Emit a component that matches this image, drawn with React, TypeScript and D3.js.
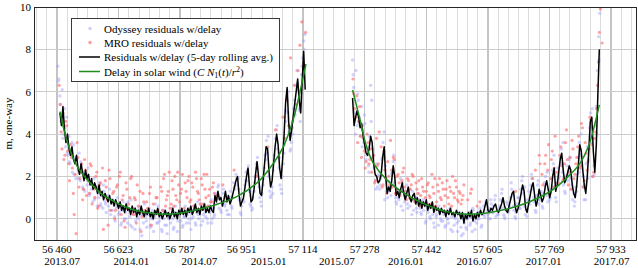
import React from "react";
import * as d3 from "d3";

// chart size, in px
const width = 638;
const height = 268;
const plot = { left: 34, right: 636, top: 7, bottom: 240 };

// bottom axis: MJD ticks every 6 solar rotations, calendar dates underneath
const mjdTicks = [56460, 56623, 56787, 56951, 57114, 57278, 57442, 57605, 57769, 57933];
const dateTicks = [56474, 56658, 56839, 57023, 57204, 57388, 57570, 57754, 57935];
const dateLabels = ["2013.07", "2014.01", "2014.07", "2015.01", "2015.07", "2016.01", "2016.07", "2017.01", "2017.07"];
const rotationDays = 27.2753;
const yTicks = [0, 2, 4, 6, 8, 10];
const yGrid = [0, 2, 4, 6, 8];

// Odyssey residuals, one reading every 3 days
const odyStep = 3;
const ody1Start = 56462;
const odyssey1 = [
  7.2, 6.6, 5.8, 4.6, 6.1, 4.0, 5.2, 3.4, 4.8, 3.0,
  3.9, 2.6, 3.3, 2.2, 3.5, 2.9, 1.9, 2.8, 2.3, 3.1,
  1.8, 2.5, 1.5, 2.2, 1.3, 2.0, 1.6, 2.4, 1.1, 1.7,
  1.4, 0.8, 1.9, 1.0, 1.5, 0.6, 1.2, 1.7, 0.7, 1.1,
  0.5, 1.3, 0.8, 0.3, 1.0, 0.6, 1.4, 0.2, 0.9, 0.4,
  0.7, -0.1, 0.5, 1.0, 0.2, 0.6, -0.3, 0.4, 0.8, 0.0,
  0.3, 0.7, -0.2, 0.4, 0.1, 0.9, -0.4, 0.2, 0.5, -0.1,
  0.4, 0.0, 0.6, -0.5, 0.2, 0.3, -0.2, 0.7, 0.1, -0.4,
  0.2, 0.5, -0.3, 0.0, 0.4, -0.6, 0.1, 0.3, -0.2, 0.6,
  -0.1, 0.2, -0.5, 0.4, 0.0, -0.3, 0.3, -0.7, 0.1, 0.2,
  -0.2, 0.5, 0.0, -0.4, 0.3, 0.1, -0.6, 0.2, 0.4, -0.1,
  0.3, -0.3, 0.1, 0.6, -0.2, 0.2, 0.0, 0.5, -0.5, 0.3,
  0.1, 0.6, -0.2, 0.3, 0.8, 0.0, 0.4, -0.3, 0.5, 0.2,
  0.7, 0.1, 0.4, -0.2, 0.6, 0.3, 0.9, 0.0, 0.5, 0.2,
  1.2, 0.7, 1.5, 0.5, 1.0, 0.3, 0.8, 1.4, 0.6, 1.1,
  0.4, 0.9, 0.2, 1.3, 0.6, 1.0, 1.7, 1.4, 2.1, 1.6,
  1.9, 0.9, 0.3, 0.6, 1.2, 0.8, 1.6, 2.2, 1.8, 2.5,
  1.3, 0.6, 0.4, 1.0, 1.3, 2.0, 2.6, 2.9, 1.8, 1.0,
  0.8, 1.2, 1.6, 2.4, 3.0, 3.7, 3.1, 2.0, 1.3, 1.1,
  1.5, 2.3, 3.0, 3.8, 4.2, 3.3, 2.4, 1.6, 1.4, 2.0,
  2.6, 3.5, 4.6, 5.6, 5.0, 4.1, 3.2, 3.6, 4.3, 5.2,
  5.6, 6.3, 7.0, 6.1, 5.2, 4.6, 6.8, 7.6, 8.4, 8.7,
];
const ody2Start = 57246;
const odyssey2 = [
  7.5, 6.2, 5.0, 7.0, 4.4, 5.6, 4.8, 3.9, 5.3, 4.2,
  3.6, 4.5, 2.8, 3.4, 2.5, 3.9, 6.3, 5.6, 3.3, 2.4,
  1.8, 2.6, 1.5, 2.1, 1.4, 1.9, 2.8, 3.6, 4.1, 2.5,
  1.3, 1.0, 1.8, 1.5, 1.1, 2.2, 2.7, 1.7, 1.0, 0.7,
  1.4, 0.9, 1.2, 0.6, 1.7, 1.3, 0.8, 1.0, 1.6, 0.5,
  1.1, 0.6, 0.9, 1.3, 0.4, 0.8, 1.0, 0.3, 0.7, 0.9,
  0.5, 0.2, 0.8, 0.4, 0.6, -0.1, 0.7, 0.3, 0.5, 0.0,
  0.6, 0.2, -0.2, 0.4, 0.1, 0.5, -0.3, 0.3, 0.0, 0.4,
  -0.1, 0.2, -0.4, 0.3, 0.0, -0.2, 0.4, -0.5, 0.1, 0.2,
  -0.3, 0.0, 0.3, -0.6, -0.1, 0.2, -0.4, 0.1, -0.7, -0.2,
  0.2, -0.5, 0.0, 0.3, -0.3, 0.1, -0.6, 0.4, -0.1, 0.2,
  -0.2, 0.3, 0.0, 0.5, -0.4, 0.2, 0.6, 0.1, 0.8, 0.4,
  0.2, 0.5, 0.0, 0.7, 0.3, 0.6, 0.9, 0.1, 0.4, 0.2,
  0.6, 0.9, 1.2, 0.5, 0.2, 0.0, 0.4, 0.7, 0.3, 0.6,
  1.0, 1.4, 1.1, 0.4, 0.1, 0.3, 0.7, 1.0, 0.5, 1.4,
  1.8, 1.2, 0.6, 0.2, 0.4, 0.9, 1.3, 0.7, 1.6, 1.9,
  1.4, 0.8, 0.4, 1.1, 1.6, 0.7, 0.9, 1.3, 0.6, 1.2,
  1.7, 2.0, 1.1, 0.8, 1.4, 1.0, 1.9, 2.3, 2.6, 1.5,
  1.0, 1.7, 2.4, 2.0, 2.9, 3.3, 2.2, 1.6, 1.3, 2.0,
  2.5, 2.1, 2.8, 1.9, 1.4, 0.9, 1.2, 0.8, 1.5, 2.1,
  2.9, 3.6, 3.0, 2.4, 1.5, 0.9, 1.6, 2.6, 3.4, 2.8,
  4.3, 5.0, 3.6, 2.0, 2.5, 4.4, 5.3, 7.0, 8.6, 9.7,
];
// second Odyssey pass, every 6 days, offset by 1.5 days
const odyStepB = 6;
const ody1bStart = 56463.5;
const odyssey1b = [
  6.5, 5.4, 3.8, 4.3, 3.1, 2.7, 3.6, 2.1, 2.8, 1.9,
  2.7, 1.4, 2.1, 1.8, 1.2, 1.6, 0.9, 1.5, 1.0, 0.6,
  1.6, 0.7, 1.1, 0.4, 0.9, 0.1, 0.6, 0.3, -0.2, 0.5,
  0.0, 0.8, -0.3, 0.4, -0.5, 0.1, 0.5, -0.8, 0.2, -0.1,
  0.3, -0.4, 0.0, 0.7, -0.2, 0.1, -0.6, 0.4, -0.3, 0.0,
  0.2, -0.5, 0.6, -0.1, 0.3, -0.4, 0.1, 0.4, -0.2, 0.0,
  0.4, -0.3, 0.2, 0.7, -0.1, 0.3, 0.0, 0.6, -0.2, 0.1,
  0.9, 1.6, 0.4, 1.2, 0.7, 0.2, 1.0, 0.5, 1.5, 1.9,
  1.4, 0.2, 0.9, 1.8, 2.3, 0.7, 0.5, 1.7, 2.4, 1.5,
  0.6, 1.9, 2.8, 3.9, 1.0, 1.2, 2.7, 4.4, 2.9, 1.2,
  3.1, 5.1, 6.0, 3.3, 4.0, 4.9, 6.4, 5.1, 7.2, 8.0,
];
const ody2bStart = 57247.5;
const odyssey2b = [
  6.8, 4.0, 5.9, 4.5, 3.4, 4.9, 3.0, 2.2, 4.6, 3.0,
  1.4, 2.0, 1.6, 2.9, 0.9, 1.7, 1.3, 2.1, 3.0, 0.8,
  1.0, 1.9, 0.4, 1.1, 0.7, 1.4, 0.2, 0.9, 0.5, 1.2,
  0.3, 0.9, -0.2, 0.5, 0.1, 0.7, -0.4, 0.2, 0.6, -0.1,
  0.4, -0.3, 0.0, 0.5, -0.6, 0.1, -0.2, 0.3, -0.8, 0.0,
  -0.4, 0.1, -0.2, 0.5, -0.5, 0.0, 0.3, -0.3, 0.2, 0.7,
  0.0, 0.9, 0.3, 1.1, 0.2, 0.5, 1.4, 0.1, 0.8, 0.4,
  1.7, 0.6, 0.0, 1.0, 0.5, 2.0, 1.5, 0.1, 0.8, 2.1,
  1.0, 0.3, 1.8, 1.2, 0.5, 1.6, 2.2, 0.9, 1.4, 3.0,
  0.8, 1.9, 2.6, 3.6, 1.2, 1.8, 2.9, 1.6, 0.6, 1.3,
  2.2, 4.0, 2.0, 0.9, 1.9, 3.9, 5.2, 2.1, 4.0, 7.5,
];

// MRO residuals, one reading every 5 days (null = no point)
const mroStep = 5;
const mro1Start = 56466;
const mro1 = [
  6.3, 4.1, 5.0, 3.0, 4.4, 2.6, 3.5, 2.4, 0.2, -0.7,
  2.9, 1.9, 2.6, 1.4, 2.3, 2.0, 1.2, 2.5, 1.6, 1.0,
  2.2, 0.6, 1.7, 2.4, 1.0, 1.5, -0.3, 1.9, 0.8, 1.3,
  0.4, 1.6, 2.0, 0.2, 1.1, -0.4, 1.4, 0.7, 1.9, 0.3,
  1.0, -0.2, 0.6, 1.3, 0.1, 0.8, null, 0.5, 1.2, -0.3,
  0.7, null, 1.0, 0.2, 1.5, 0.4, 2.1, 0.9, 1.3, 0.5,
  1.8, 0.6, 1.1, 2.2, 0.8, 1.4, 0.3, 1.7, 1.0, 2.0,
  0.9, 1.5, 0.5, 1.9, 1.2, 0.7, 1.6, 2.1, 1.0, 0.6,
  1.4, 0.8, 1.7, null, 1.1, null, null, 1.6, null, null,
  null, null, null, 2.3, null, null, null, null, null, null,
  null, null, null, null, null, 2.0, null, null, null, null,
  null, 3.4, null, null, null, 4.2, null, 3.1, null, 4.8,
  3.8, 5.6, 4.4, 7.6, 4.6, 6.3, 5.4, 7.0, 8.2, 9.3,
  7.3, 8.8,
];
const mro2Start = 57247;
const mro2 = [
  6.6, 5.2, 5.8, 4.6, 3.9, 4.4, 3.2, 2.7, 3.6, 2.8,
  2.2, 3.0, 1.8, 2.5, 4.1, 3.4, 1.6, 2.3, 1.2, 2.0,
  3.7, 1.5, 2.8, 1.4, 2.1, 1.1, 1.8, 2.4, 1.3, 1.9,
  1.0, 1.6, 2.0, 0.8, 1.4, 1.8, 1.1, 1.5, 0.7, 1.3,
  1.7, 1.0, 2.1, 1.2, 0.6, 1.6, 1.9, 0.9, 1.4, 1.1,
  1.8, 0.7, 1.3, 2.0, 1.0, 1.5, 0.8, 1.2, 0.9, 1.6,
  null, 0.9, null, 1.4, null, null, 0.6, null, null, null,
  null, null, null, null, null, null, null, null, null, null,
  null, null, null, null, null, null, null, null, null, null,
  null, null, null, null, null, null, null, 2.3, null, 3.0,
  null, 1.6, 2.6, null, 3.5, 1.9, 3.2, 2.4, null, 1.7,
  3.0, 2.5, 1.9, 3.6, 2.8, 2.2, 1.4, 3.3, 2.1, 2.9,
  3.9, 2.5, 4.3, 1.8, 3.1, 2.7, 4.8, 3.5, 2.2, 4.1,
  6.3, 8.8, 10.0,
];
// second MRO pass, offset by 2.5 days
const mro1bStart = 56468.5;
const mro1b = [
  5.4, 3.3, 2.8, 4.6, 3.2, 1.8, 2.9, 1.2, 2.1, 3.6,
  1.5, 2.2, 0.9, 2.8, 1.1, 1.8, 2.6, 0.7, 1.4, 2.0,
  0.5, 1.6, 1.1, -0.5, 1.8, 0.9, 2.3, 0.4, 1.2, 0.0,
  1.5, 0.6, 2.2, 0.9, -0.1, 1.7, 0.5, 1.0, 2.0, 0.2,
  0.9, 1.6, 0.3, -0.6, 1.2, 0.4, 0.8, null, 1.5, 0.1,
  null, 1.0, 0.4, null, 1.3, 1.9, 0.6, 1.1, 2.2, 0.7,
  1.4, 2.0, 0.9, 1.6, 1.2, 2.1, 0.5, 1.3, 1.8, 0.8,
  1.7, 0.6, 2.2, 1.3, 0.9, 1.9, 0.7, 1.4, 2.1, 1.1,
  0.8, 1.5, 1.2,
];
const mro2bStart = 57249.5;
const mro2b = [
  5.9, 4.8, 3.6, 5.3, 2.9, 3.8, 2.4, 4.0, 2.6, 3.3,
  2.9, 1.7, 3.8, 2.6, 2.0, 1.5, 3.2, 1.9, 2.7, 1.6,
  2.3, 2.9, 1.2, 2.0, 1.7, 1.3, 2.2, 1.5, 0.9, 1.8,
  1.4, 2.1, 0.9, 1.7, 1.2, 0.6, 1.9, 1.3, 1.0, 1.6,
  1.1, 0.7, 1.5, 1.9, 0.8, 1.3, 1.0, 1.7, 0.6, 1.4,
  1.0, 1.5, 0.6, 1.2, 1.8, 0.9, 1.3, 0.7, 1.1, null,
  null, null, 1.2, null, null, null, null, 0.8, null, null,
  null, null, null, null, null, null, null, null, null, null,
  null, null, null, null, null, null, 1.3, null, null, null,
  null, null, null, null, null, 1.9, null, null, null, 2.6,
  2.1, null, 3.0, 2.3, null, 2.8, 1.5, 3.9, 2.2, null,
  3.4, 1.8, 2.6, 4.2, 1.6, 2.9, 3.7, 1.9, 2.6, 3.4,
  2.4, 4.5, 1.5, 3.6, 2.3, 3.3, 4.7, 2.0, 3.8, 5.2,
  7.4, 9.9, 8.3,
];

// residuals w/delay, 5-day rolling average, sampled every 4 days
const avgStep = 4;
const avg1Start = 56468;
const rolling1 = [
  5.0, 4.4, 5.3, 4.2, 3.6, 4.0, 3.3, 3.0, 3.4, 2.8,
  2.6, 3.0, 2.4, 2.1, 2.6, 2.2, 1.8, 2.3, 1.9, 2.1,
  1.6, 1.9, 1.4, 1.7, 1.5, 1.2, 1.6, 1.1, 1.3, 0.9,
  1.2, 1.0, 0.8, 1.1, 0.7, 0.9, 0.6, 0.9, 0.7, 0.5,
  0.8, 0.4, 0.6, 0.3, 0.7, 0.4, 0.5, 0.2, 0.6, 0.3,
  0.5, 0.1, 0.4, 0.2, 0.6, 0.3, 0.1, 0.4, 0.2, 0.5,
  0.1, 0.3, 0.0, 0.4, 0.2, 0.5, 0.1, 0.3, 0.0, 0.2,
  0.4, 0.1, 0.3, 0.0, 0.2, 0.5, 0.1, 0.3, 0.0, 0.4,
  0.2, 0.5, 0.2, 0.4, 0.1, 0.5, 0.3, 0.6, 0.2, 0.4,
  0.7, 0.3, 0.5, 0.2, 0.6, 0.4, 0.7, 0.3, 0.5, 0.3,
  0.6, 0.4, 0.3, 1.1, 0.8, 1.3, 0.9, 1.0, 0.6, 0.9,
  1.3, 0.8, 1.1, 0.7, 0.9, 1.2, 1.5, 1.8, 2.0, 1.2,
  0.6, 0.8, 1.0, 1.5, 2.0, 2.4, 1.5, 0.8, 0.9, 1.4,
  2.1, 2.7, 2.0, 1.2, 1.1, 1.8, 2.6, 3.4, 3.3, 2.2,
  1.5, 1.8, 2.6, 3.4, 4.0, 3.5, 2.4, 1.9, 2.8, 4.0,
  5.5, 6.2, 4.6, 3.7, 4.2, 4.8, 5.4, 6.0, 6.6, 5.6,
  5.0, 6.5, 7.9, 6.1,
];
const avg2Start = 57246;
const rolling2 = [
  5.7, 4.4, 4.8, 5.1, 4.8, 4.3, 4.5, 3.9, 3.5, 3.1,
  3.0, 3.3, 3.9, 3.6, 2.6, 2.1, 2.0, 1.7, 1.8, 2.1,
  2.9, 3.4, 2.0, 1.2, 1.5, 1.3, 1.8, 2.5, 2.0, 1.1,
  1.3, 1.0, 1.4, 1.7, 1.2, 0.9, 1.2, 1.5, 1.0, 0.8,
  1.1, 1.2, 0.7, 1.0, 0.6, 0.9, 0.5, 0.8, 0.6, 0.9,
  0.4, 0.7, 0.5, 0.8, 0.3, 0.6, 0.4, 0.5, 0.2, 0.5,
  0.3, 0.4, 0.1, 0.4, 0.2, 0.5, 0.2, 0.3, 0.1, 0.4,
  0.2, 0.3, 0.0, 0.3, -0.2, 0.2, 0.0, 0.3, 0.1, 0.4,
  -0.1, 0.2, 0.0, 0.3, 0.1, 0.4, 0.2, 0.3, 0.6, 0.9,
  0.4, 0.3, 0.5, 0.4, 0.6, 0.7, 0.4, 0.3, 0.5, 0.7,
  1.0, 0.6, 0.4, 0.3, 0.6, 0.9, 1.2, 1.3, 0.6, 0.3,
  0.5, 0.8, 1.2, 1.6, 1.3, 0.5, 0.3, 0.7, 1.1, 1.5,
  1.7, 1.1, 0.6, 0.9, 1.4, 1.1, 0.8, 1.0, 1.5, 1.8,
  1.4, 1.0, 1.3, 2.0, 2.4, 1.3, 1.6, 2.2, 2.8, 3.1,
  2.3, 1.7, 1.9, 2.2, 2.5, 2.3, 1.6, 1.2, 1.0, 1.6,
  2.5, 3.5, 3.2, 2.3, 1.6, 1.2, 2.0, 3.2, 4.6, 4.8,
  3.2, 2.2, 3.5, 5.8, 8.0,
];

// delay in solar wind model, [MJD, m]
const wind1: [number, number][] = [
  [56468, 5.06], [56487, 3.65], [56514, 2.47], [56541, 1.84], [56576, 1.21],
  [56620, 0.74], [56665, 0.42], [56709, 0.27], [56760, 0.22], [56849, 0.5],
  [56938, 1.05], [56991, 1.68], [57026, 2.39], [57062, 3.41], [57088, 4.67],
  [57105, 5.9], [57122, 7.3],
];
const wind2: [number, number][] = [
  [57246, 6.08], [57266, 4.67], [57283, 3.41], [57301, 2.63], [57337, 1.84],
  [57390, 1.13], [57443, 0.66], [57496, 0.34], [57549, 0.22], [57576, 0.24],
  [57611, 0.3], [57665, 0.5], [57718, 0.82], [57771, 1.29], [57815, 1.92],
  [57851, 2.63], [57873, 3.41], [57902, 5.38],
];

const odyColor = "#9c9cff";
const mroColor = "#ff6464";
const windColor = "#1f8c1f";
const font = "'Liberation Serif', 'DejaVu Serif', serif";

const toPoints = (start: number, step: number, vals: (number | null)[]) =>
  vals
    .map((v, i) => [start + i * step, v] as [number, number | null])
    .filter((d) => d[1] !== null) as [number, number][];

const App: React.FC = () => {
  const x = d3.scaleLinear().domain([56399, 57999.5]).range([plot.left, plot.right]);
  const y = d3.scaleLinear().domain([-1, 10]).range([plot.bottom, plot.top]);

  const odyPts = [
    ...toPoints(ody1Start, odyStep, odyssey1),
    ...toPoints(ody2Start, odyStep, odyssey2),
    ...toPoints(ody1bStart, odyStepB, odyssey1b),
    ...toPoints(ody2bStart, odyStepB, odyssey2b),
  ];
  const mroPts = [
    ...toPoints(mro1Start, mroStep, mro1),
    ...toPoints(mro2Start, mroStep, mro2),
    ...toPoints(mro1bStart, mroStep, mro1b),
    ...toPoints(mro2bStart, mroStep, mro2b),
  ];

  const line = d3.line<[number, number]>().x((d) => x(d[0])).y((d) => y(d[1]));
  const smooth = d3
    .line<[number, number]>()
    .x((d) => x(d[0]))
    .y((d) => y(d[1]))
    .curve(d3.curveCatmullRom.alpha(0.5));

  // one gridline per solar rotation, heavier every 6th
  const rotations = d3.range(-3, 60).map((k) => ({ k, t: mjdTicks[0] + k * rotationDays }))
    .filter((r) => x(r.t) > plot.left + 1 && x(r.t) < plot.right - 1);

  const fmt = (v: number) => d3.format(",")(v).replace(",", "\u2009");

  return (
    <svg width={width} height={height} style={{ position: "absolute", left: 0, top: 0 }} fontFamily={font}>
      <defs>
        <clipPath id="plotClip">
          <rect x={plot.left} y={plot.top} width={plot.right - plot.left} height={plot.bottom - plot.top} />
        </clipPath>
      </defs>
      <rect x={0} y={0} width={width} height={height} fill="white" />

      {/* grid */}
      <g shapeRendering="crispEdges">
        {rotations.map((r) => (
          <line key={r.k} x1={x(r.t)} x2={x(r.t)} y1={plot.top} y2={plot.bottom}
            stroke={r.k % 6 === 0 ? "#c4c4c4" : "#dcdcdc"} strokeWidth={r.k % 6 === 0 ? 1.4 : 1} />
        ))}
        {yGrid.map((v) => (
          <line key={v} x1={plot.left} x2={plot.right} y1={y(v)} y2={y(v)} stroke="#cccccc" strokeWidth={1} />
        ))}
      </g>

      <g clipPath="url(#plotClip)">
        {odyPts.map((d, i) => (
          <circle key={"o" + i} cx={x(d[0])} cy={y(d[1])} r={1.7} fill={odyColor} fillOpacity={0.45} />
        ))}
        {mroPts.map((d, i) => (
          <circle key={"m" + i} cx={x(d[0])} cy={y(d[1])} r={1.6} fill={mroColor} fillOpacity={0.6} />
        ))}
        <path d={line(toPoints(avg1Start, avgStep, rolling1)) ?? ""} fill="none" stroke="black" strokeWidth={1.5} strokeLinejoin="round" />
        <path d={line(toPoints(avg2Start, avgStep, rolling2)) ?? ""} fill="none" stroke="black" strokeWidth={1.5} strokeLinejoin="round" />
        <path d={smooth(wind1) ?? ""} fill="none" stroke={windColor} strokeWidth={1.5} />
        <path d={smooth(wind2) ?? ""} fill="none" stroke={windColor} strokeWidth={1.5} />
      </g>

      {/* frame */}
      <rect x={plot.left} y={plot.top} width={plot.right - plot.left} height={plot.bottom - plot.top}
        fill="none" stroke="#262626" strokeWidth={1} shapeRendering="crispEdges" />

      {/* y axis */}
      <g fontSize={11} textAnchor="end">
        {yTicks.map((v) => (
          <text key={v} x={plot.left - 3} y={y(v) + 3.8}>{v}</text>
        ))}
      </g>
      <text transform={`translate(12,${(plot.top + plot.bottom) / 2}) rotate(-90)`} textAnchor="middle" fontSize={11}>
        m, one-way
      </text>

      {/* x axis */}
      <g fontSize={11} textAnchor="middle">
        {mjdTicks.map((t) => (
          <text key={t} x={x(t)} y={253}>{fmt(t)}</text>
        ))}
        {dateTicks.map((t, i) => (
          <text key={t} x={x(t)} y={265}>{dateLabels[i]}</text>
        ))}
      </g>

      {/* legend */}
      <g>
        <rect x={71.5} y={18.5} width={208} height={63} fill="white" stroke="#3a3a3a" strokeWidth={1} />
        <circle cx={90} cy={28.5} r={1.7} fill={odyColor} fillOpacity={0.5} />
        <circle cx={90} cy={42.5} r={1.7} fill={mroColor} fillOpacity={0.65} />
        <line x1={79} x2={100} y1={57} y2={57} stroke="black" strokeWidth={1.5} />
        <line x1={79} x2={100} y1={71.5} y2={71.5} stroke={windColor} strokeWidth={1.5} />
        <g fontSize={11}>
          <text x={104} y={32.5}>Odyssey residuals w/delay</text>
          <text x={104} y={46.5}>MRO residuals w/delay</text>
          <text x={104} y={61}>Residuals w/delay (5-day rolling avg.)</text>
          <text x={104} y={75.5}>
            <tspan>{"Delay in solar wind ("}</tspan>
            <tspan fontStyle="italic">{"C N"}</tspan>
            <tspan fontSize={8} dy={2}>{"1"}</tspan>
            <tspan dy={-2}>{"("}</tspan>
            <tspan fontStyle="italic">{"t"}</tspan>
            <tspan>{")/"}</tspan>
            <tspan fontStyle="italic">{"r"}</tspan>
            <tspan fontSize={8} dy={-4}>{"2"}</tspan>
            <tspan dy={4}>{")"}</tspan>
          </text>
        </g>
      </g>
    </svg>
  );
};

export default App;
